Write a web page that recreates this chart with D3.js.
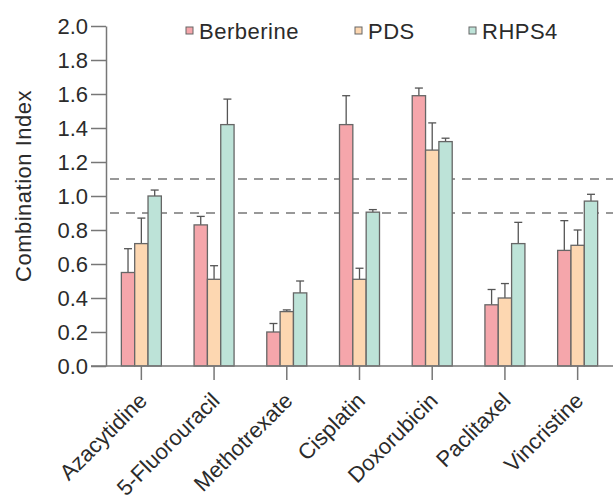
<!DOCTYPE html>
<html lang="en">
    <head>
        <meta charset="utf-8">
        <title>Combination Index</title>
        <script src="https://d3js.org/d3.v7.min.js"></script>
    </head>
    <style>
            body {
              margin: 0;
              background: #fff;
            }
            text {
              font-family: "Liberation Sans", Arial, sans-serif;
              fill: #2b2b2b;
            }
            .axis path,
            .axis line {
              stroke: #777;
              stroke-width: 1.5px;
            }
            .ref {
              stroke: #777;
              stroke-width: 1.3px;
              stroke-dasharray: 9,7;
            }
            .bar {
              stroke: #666;
              stroke-width: 1.3px;
            }
            .err {
              stroke: #555;
              stroke-width: 1.3px;
              fill: none;
            }
    </style>
    <body>
        <script>
            var drugs = ["Azacytidine", "5-Fluorouracil", "Methotrexate", "Cisplatin", "Doxorubicin", "Paclitaxel", "Vincristine"];
            var series = ["Berberine", "PDS", "RHPS4"];
            var colors = ["#f5a6ab", "#fdd7b1", "#bde3d8"];

            // mean values, one array per series (same order as drugs)
            var berberine = [0.55, 0.83, 0.20, 1.42, 1.59, 0.36, 0.68];
            var pds       = [0.72, 0.51, 0.32, 0.51, 1.27, 0.40, 0.71];
            var rhps4     = [1.00, 1.42, 0.43, 0.905, 1.32, 0.72, 0.97];

            // top of the error bars
            var berberineErr = [0.69, 0.88, 0.25, 1.59, 1.635, 0.45, 0.855];
            var pdsErr       = [0.87, 0.59, 0.33, 0.575, 1.43, 0.485, 0.80];
            var rhps4Err     = [1.035, 1.57, 0.50, 0.92, 1.34, 0.845, 1.01];

            var yTicks = [0.0, 0.2, 0.4, 0.6, 0.8, 1.0, 1.2, 1.4, 1.6, 1.8, 2.0];
            var refLines = [0.9, 1.1];

            var values = [berberine, pds, rhps4];
            var errs = [berberineErr, pdsErr, rhps4Err];

            var width = 613, height = 499;
            var mLeft = 106, mRight = 613, mTop = 26, mBottom = 366;

            var svg = d3.select("body").append("svg")
                .attr("width", width)
                .attr("height", height);

            var x = d3.scaleBand()
                .domain(drugs)
                .range([mLeft - 1, mRight + 1]);

            var xs = d3.scaleBand()
                .domain(series)
                .range([0, 40]);

            var y = d3.scaleLinear()
                .domain([0, 2])
                .range([mBottom, mTop]);

            // dashed reference lines
            svg.append("g")
                .selectAll("line")
                .data(refLines)
                .enter().append("line")
                .attr("class", "ref")
                .attr("x1", mLeft + 4)
                .attr("x2", width)
                .attr("y1", function(d) { return y(d); })
                .attr("y2", function(d) { return y(d); });

            var rows = [];
            drugs.forEach(function(drug, i) {
                series.forEach(function(s, j) {
                    rows.push({drug: drug, s: s, j: j, v: values[j][i], e: errs[j][i]});
                });
            });

            function bx(d) {
                return x(d.drug) + x.bandwidth() / 2 - 20 + xs(d.s);
            }

            // error bars (drawn under the bars so they start at the bar top)
            var eg = svg.append("g");
            eg.selectAll("line.stem")
                .data(rows)
                .enter().append("line")
                .attr("class", "err")
                .attr("x1", function(d) { return bx(d) + xs.bandwidth() / 2; })
                .attr("x2", function(d) { return bx(d) + xs.bandwidth() / 2; })
                .attr("y1", function(d) { return y(d.v); })
                .attr("y2", function(d) { return y(d.e); });
            eg.selectAll("line.cap")
                .data(rows)
                .enter().append("line")
                .attr("class", "err")
                .attr("x1", function(d) { return bx(d) + xs.bandwidth() / 2 - 4; })
                .attr("x2", function(d) { return bx(d) + xs.bandwidth() / 2 + 4; })
                .attr("y1", function(d) { return y(d.e); })
                .attr("y2", function(d) { return y(d.e); });

            svg.append("g")
                .selectAll("rect")
                .data(rows)
                .enter().append("rect")
                .attr("class", "bar")
                .attr("x", bx)
                .attr("width", xs.bandwidth())
                .attr("y", function(d) { return y(d.v); })
                .attr("height", function(d) { return mBottom - y(d.v); })
                .attr("fill", function(d) { return colors[d.j]; });

            // y axis
            var yAxis = svg.append("g")
                .attr("class", "axis")
                .attr("transform", "translate(" + mLeft + ",0)")
                .call(d3.axisLeft(y).tickValues(yTicks).tickSize(15).tickSizeOuter(0).tickPadding(3)
                    .tickFormat(d3.format(".1f")));
            yAxis.selectAll("text")
                .style("font-size", "22px")
                .attr("fill", "#2b2b2b");

            // x axis
            var xAxis = svg.append("g")
                .attr("class", "axis")
                .attr("transform", "translate(0," + mBottom + ")")
                .call(d3.axisBottom(x).tickSize(14).tickSizeOuter(0));
            xAxis.select(".domain").attr("d", "M" + (mLeft - 15) + ",0H" + width);
            xAxis.selectAll("text")
                .style("font-size", "22px")
                .attr("fill", "#2b2b2b")
                .attr("text-anchor", "end")
                .attr("y", 0)
                .attr("dy", 0)
                .attr("transform", "translate(7,36) rotate(-45)");

            svg.append("text")
                .attr("transform", "translate(31," + 186 + ") rotate(-90)")
                .attr("text-anchor", "middle")
                .style("font-size", "22px")
                .style("letter-spacing", "0.5px")
                .text("Combination Index");

            // legend
            var legendX = [186, 355, 469];
            var lg = svg.append("g")
                .selectAll("g")
                .data(series)
                .enter().append("g")
                .attr("transform", function(d, i) { return "translate(" + legendX[i] + ",27)"; });
            lg.append("rect")
                .attr("width", 7)
                .attr("height", 7)
                .attr("fill", function(d, i) { return colors[i]; })
                .attr("stroke", "#666")
                .attr("stroke-width", 1);
            lg.append("text")
                .attr("x", 13)
                .attr("y", 12)
                .style("font-size", "22px")
                .style("letter-spacing", "0.5px")
                .text(function(d) { return d; });
        </script>
    </body>
</html>
